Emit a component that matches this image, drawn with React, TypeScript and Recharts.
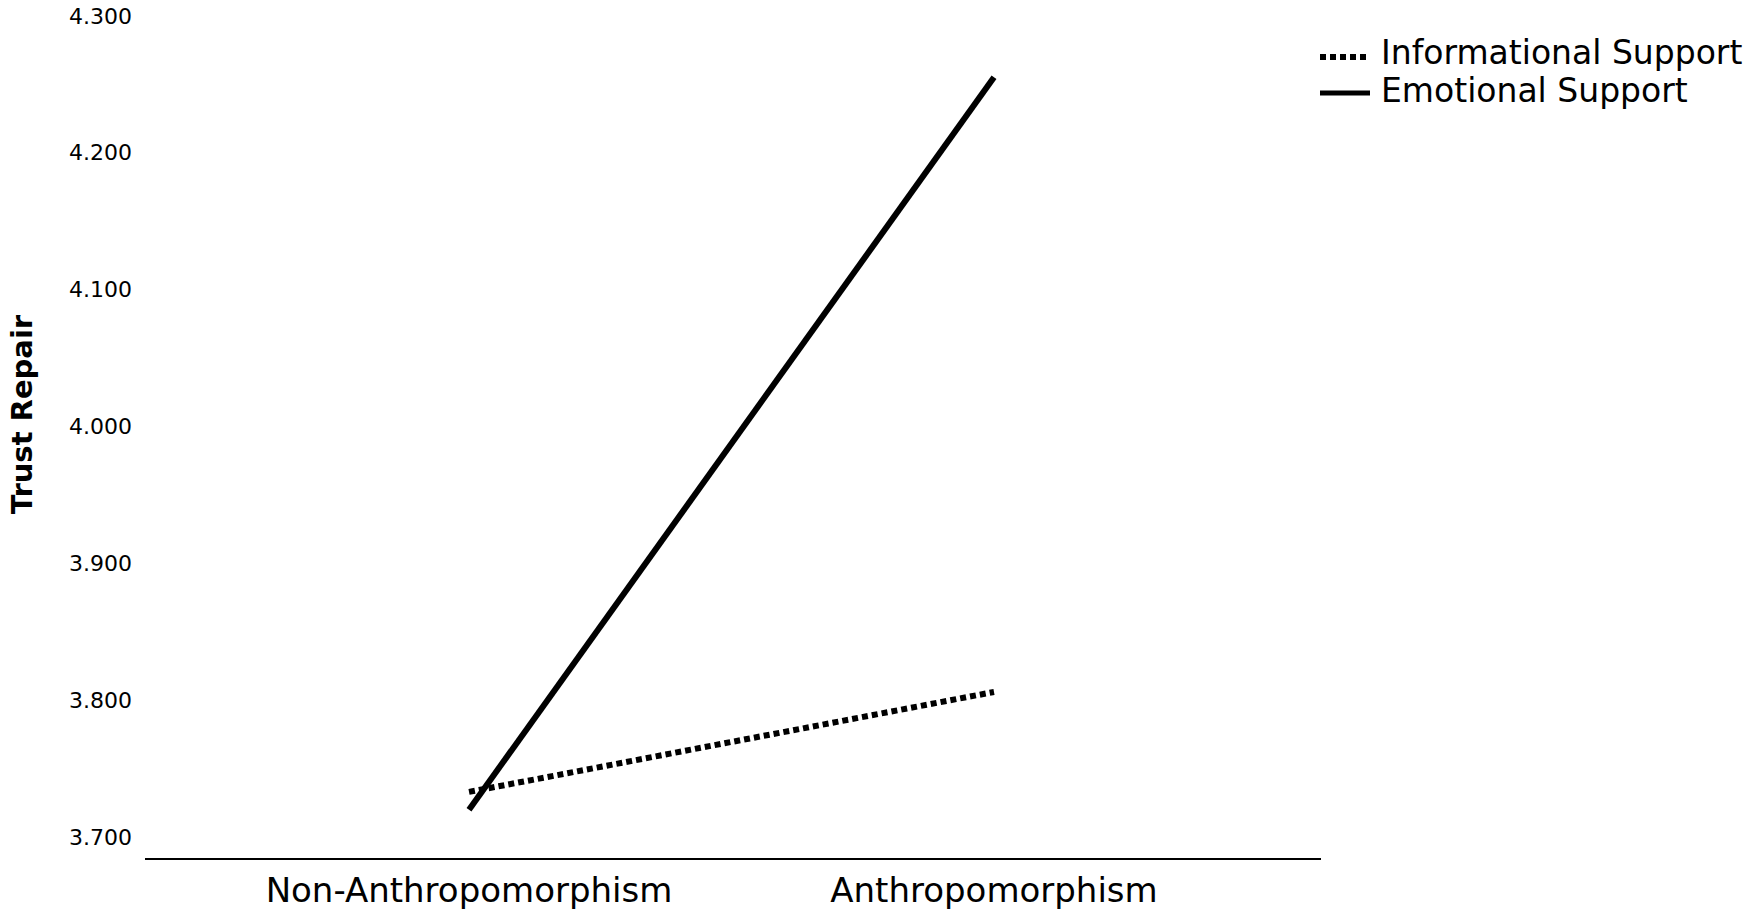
import React from 'react';
import { LineChart, Line, XAxis, YAxis, Legend } from 'recharts';

const categories = ['Non-Anthropomorphism', 'Anthropomorphism'];
const informationalSupport = [3.733, 3.806];
const emotionalSupport = [3.72, 4.255];
const yTicks = [3.7, 3.8, 3.9, 4.0, 4.1, 4.2, 4.3];
const seriesNames = ['Informational Support', 'Emotional Support'];

const data = categories.map((c, i) => ({
  category: c,
  informational: informationalSupport[i],
  emotional: emotionalSupport[i],
}));

const FONT = '"DejaVu Sans", Verdana, sans-serif';

const renderLegend = (props: any) => {
  const payload = [...(props.payload || [])].sort(
    (a: any, b: any) => seriesNames.indexOf(a.value) - seriesNames.indexOf(b.value)
  );
  return (
    <svg width={441} height={100} style={{ display: 'block' }}>
      {payload.map((entry: any, i: number) => {
        const dashed = entry.payload && entry.payload.strokeDasharray;
        const ly = 32 + i * 36;
        return (
          <g key={i}>
            <line
              x1={10}
              x2={60}
              y1={ly}
              y2={ly}
              stroke="#000"
              strokeWidth={dashed ? 6 : 5}
              strokeDasharray={dashed ? '6 4' : undefined}
            />
            <text x={71} y={ly + 7 + i * 2} fontFamily={FONT} fontSize={33} fill="#000">
              {entry.value}
            </text>
          </g>
        );
      })}
    </svg>
  );
};

const YLabel = (props: any) => {
  const vb = props.viewBox || { x: 0, y: 0, width: 0, height: 0 };
  const cx = vb.x + 22;
  const cy = vb.y + vb.height / 2 - 16;
  return (
    <text
      x={cx}
      y={cy}
      transform={`rotate(-90, ${cx}, ${cy})`}
      textAnchor="middle"
      dominantBaseline="central"
      fontFamily={FONT}
      fontWeight="bold"
      fontSize={29}
      fill="#000"
    >
      Trust Repair
    </text>
  );
};

export default function App() {
  return (
    <div style={{ position: 'absolute', left: 0, top: 0, background: '#fff' }}>
      <LineChart
        width={1751}
        height={916}
        data={data}
        margin={{ top: 2, right: 430, bottom: 0, left: 0 }}
      >
        <XAxis
          dataKey="category"
          padding={{ left: 324, right: 327 }}
          height={57}
          axisLine={{ stroke: '#000', strokeWidth: 2 }}
          tickLine={false}
          tickSize={8}
          tickMargin={11}
          tick={{ fontFamily: FONT, fontSize: 34, fill: '#000' }}
        />
        <YAxis
          width={145}
          domain={[3.684, 4.31]}
          ticks={yTicks}
          allowDataOverflow
          axisLine={false}
          tickLine={false}
          tickSize={6}
          tickMargin={7}
          tickFormatter={(v: number) => v.toFixed(3)}
          tick={{ fontFamily: FONT, fontSize: 22, fill: '#000' }}
          label={<YLabel />}
        />
        <Legend
          layout="vertical"
          align="center"
          verticalAlign="middle"
          content={renderLegend}
          wrapperStyle={{ position: 'absolute', left: 1310, top: 25, width: 441, height: 100 }}
        />
        <Line
          type="linear"
          dataKey="informational"
          name="Informational Support"
          stroke="#000"
          strokeWidth={6}
          strokeDasharray="6 4"
          dot={false}
          activeDot={false}
          isAnimationActive={false}
        />
        <Line
          type="linear"
          dataKey="emotional"
          name="Emotional Support"
          stroke="#000"
          strokeWidth={6}
          dot={false}
          activeDot={false}
          isAnimationActive={false}
        />
      </LineChart>
    </div>
  );
}
